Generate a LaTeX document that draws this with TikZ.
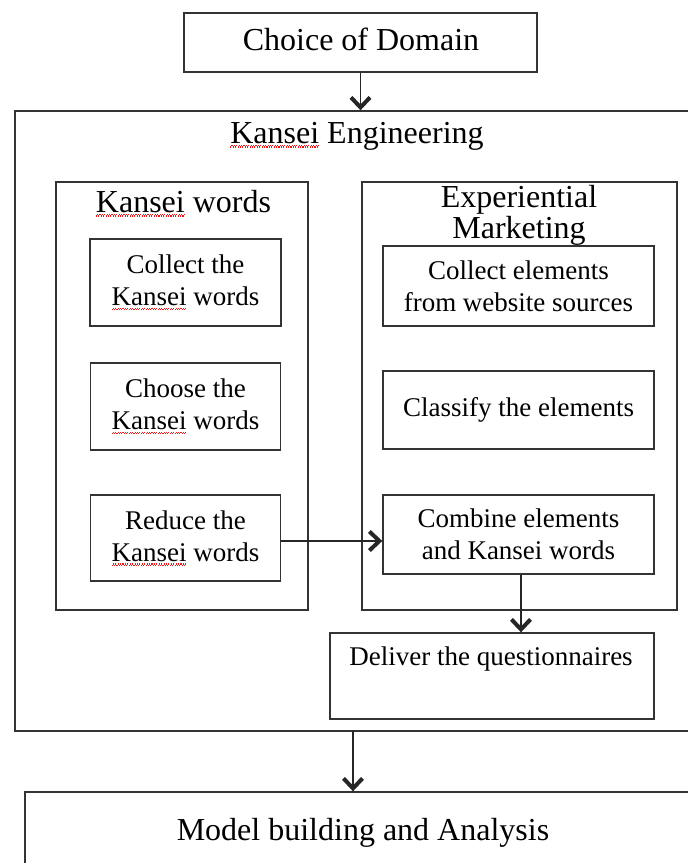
\documentclass[tikz,border=0pt]{standalone}
\usepackage{fontspec}
\setmainfont{Liberation Serif}
\usetikzlibrary{arrows.meta}
\definecolor{squig}{RGB}{240,20,20}
\newsavebox\ksqbox
\newcommand{\ksqunit}{\hbox{\rule[-0.7pt]{1.1pt}{1.1pt}\rule[0.4pt]{1.1pt}{1.1pt}\hskip0.2pt}}
\newcommand{\ksq}[1]{\sbox\ksqbox{#1}\leavevmode\rlap{\textcolor{squig}{\raisebox{-3.8pt}{\hbox to \wd\ksqbox{\xleaders\ksqunit\hfill}}}}\usebox\ksqbox}
\tikzset{
  box/.style={draw=black!80,line width=1.4pt,inner sep=0pt,fill=none},
  bigtxt/.style={font=\fontsize{32}{25}\selectfont,align=center,inner sep=0pt},
  smalltxt/.style={font=\fontsize{27}{32}\selectfont,align=center},
  arr/.style={line width=1.5pt,draw=black!85,-{Straight Barb[length=10pt,width=19pt,line width=4pt]}}
}
\begin{document}
\begin{tikzpicture}[x=1pt,y=-1pt]
\clip (0,0) rectangle (688,863);
\fill[white] (0,0) rectangle (688,863);
% top box
\node[box,minimum width=353pt,minimum height=59pt] (choice) at (360.5,42.5) {};
\node[bigtxt,anchor=base] (choicet) at (361,50) {Choice of Domain};
% outer Kansei Engineering box
\node[box,minimum width=720pt,minimum height=620pt] (ke) at (375,421) {};
\node[bigtxt,anchor=base] (ket) at (357,143) {\ksq{Kansei} Engineering};
% Kansei words column
\node[box,minimum width=252pt,minimum height=428pt] (kw) at (182,396) {};
\node[bigtxt,anchor=base] (kwt) at (183.5,212) {\ksq{Kansei} words};
% Experiential Marketing column
\node[box,minimum width=315pt,minimum height=428pt] (em) at (519.5,396) {};
\node[bigtxt,anchor=base] (emt) at (519,238) {Experiential\\Marketing};
% left inner boxes
\node[box,smalltxt,minimum width=191pt,minimum height=87pt] (c1) at (185.5,282.5) {Collect the\\\ksq{Kansei} words};
\node[box,smalltxt,minimum width=190pt,minimum height=87pt] (c2) at (185.5,406.5) {Choose the\\\ksq{Kansei} words};
\node[box,smalltxt,minimum width=190pt,minimum height=86pt] (c3) at (185.5,538) {Reduce the\\\ksq{Kansei} words};
% right inner boxes
\node[box,smalltxt,minimum width=271pt,minimum height=80pt] (e1) at (518.5,286) {Collect elements\\from website sources};
\node[box,smalltxt,minimum width=271pt,minimum height=78pt] (e2) at (518.5,410) {Classify the elements};
\node[box,smalltxt,minimum width=271pt,minimum height=79pt] (e3) at (518.5,534.5) {Combine elements\\and Kansei words};
% deliver
\node[box,minimum width=324pt,minimum height=86pt] (deliver) at (492,676) {};
\node[smalltxt,anchor=base,inner sep=0pt] (delivert) at (491,665) {Deliver the questionnaires};
% model box
\node[box,minimum width=720pt,minimum height=140pt] (model) at (385,862) {};
\node[bigtxt,anchor=base] (modelt) at (363,840) {Model building and Analysis};
% connectors
\coordinate (keout) at (353,731);
\draw[arr] (choice.south) -- (choice.south |- ke.north);
\draw[arr] (c3.east |- 0,541) -- (e3.west |- 0,541);
\draw[arr] (e3.south -| 521,0) -- (deliver.north -| 521,0);
\draw[arr] (keout) -- (keout |- model.north);
\end{tikzpicture}
\end{document}
